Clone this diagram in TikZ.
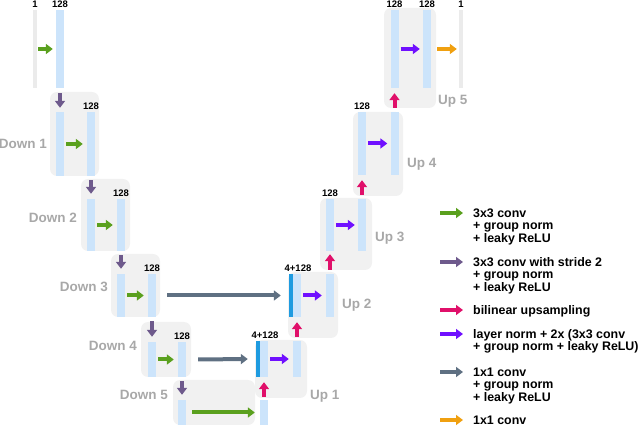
\documentclass[tikz,border=0pt]{standalone}
\usepackage{fontspec}
\setmainfont{Liberation Sans}
\usetikzlibrary{arrows.meta,fit}
\definecolor{boxgray}{HTML}{F1F1F1}
\definecolor{barblue}{HTML}{CCE4FB}
\definecolor{darkblue}{HTML}{1E9BE0}
\definecolor{iobar}{HTML}{EBEBEB}
\definecolor{cgreen}{HTML}{5AA01E}
\definecolor{cdown}{HTML}{6E5A8C}
\definecolor{cpink}{HTML}{E0106A}
\definecolor{cviolet}{HTML}{7010FF}
\definecolor{cskip}{HTML}{5F7082}
\definecolor{corange}{HTML}{F0A010}
\definecolor{lblgray}{HTML}{A8A8A8}
\begin{document}
\begin{tikzpicture}[x=1pt,y=-1pt,
  blk/.style={inner sep=0pt, draw=none, fill=boxgray, rounded corners=7pt},
  barb/.style={inner sep=0pt, draw=none, fill=barblue},
  bard/.style={inner sep=0pt, draw=none, fill=darkblue},
  bario/.style={inner sep=0pt, draw=none, fill=iobar},
  arr/.style={-{Triangle[width=10pt,length=7pt]}, line width=4pt},
  ch/.style={font=\fontsize{9.5}{10}\selectfont\bfseries, inner sep=0pt, anchor=south, yshift=2pt},
  stage/.style={font=\fontsize{13.5}{14}\selectfont\bfseries, text=lblgray, inner sep=0pt},
  legtext/.style={font=\fontsize{12.4}{12.5}\selectfont\bfseries, align=left, inner sep=0pt, anchor=base west}
]
\useasboundingbox (0,0) rectangle (640,427);
% stage boxes
\node[blk, fit={(50,92) (99,176)}] (D1) {};
\node[blk, fit={(81,179) (130,251)}] (D2) {};
\node[blk, fit={(111,254) (160,317)}] (D3) {};
\node[blk, fit={(141,322) (191,377)}] (D4) {};
\node[blk, fit={(173,380) (255,425)}] (D5) {};
\node[blk, fit={(255,340) (307,398)}] (U1) {};
\node[blk, fit={(288,272) (338,338)}] (U2) {};
\node[blk, fit={(320,198) (372,270)}] (U3) {};
\node[blk, fit={(353,112) (403,196)}] (U4) {};
\node[blk, fit={(384,8) (436,108)}] (U5) {};
% bars
\node[bario, fit={(33,10) (37,88)}] (in) {};
\node[barb, fit={(56,10) (64,88)}] (e0) {};
\node[barb, fit={(56,112) (64,176)}] (d1a) {};
\node[barb, fit={(87,112) (95,176)}] (d1b) {};
\node[barb, fit={(87,199) (95,251)}] (d2a) {};
\node[barb, fit={(117,199) (125,251)}] (d2b) {};
\node[barb, fit={(117,274) (125,317)}] (d3a) {};
\node[barb, fit={(148,274) (156,317)}] (d3b) {};
\node[barb, fit={(148,342) (156,377)}] (d4a) {};
\node[barb, fit={(178,342) (186,377)}] (d4b) {};
\node[barb, fit={(178,400) (186,425)}] (d5a) {};
\node[barb, fit={(260,400) (268,425)}] (u0) {};
\node[bard, fit={(256,341) (260,377)}] (u1s) {};
\node[barb, fit={(260,341) (268,377)}] (u1a) {};
\node[barb, fit={(293,341) (301,377)}] (u1b) {};
\node[bard, fit={(289,274) (293,317)}] (u2s) {};
\node[barb, fit={(293,274) (301,317)}] (u2a) {};
\node[barb, fit={(326,274) (334,317)}] (u2b) {};
\node[barb, fit={(326,199) (334,251)}] (u3a) {};
\node[barb, fit={(358,199) (366,251)}] (u3b) {};
\node[barb, fit={(358,112) (366,175)}] (u4a) {};
\node[barb, fit={(390.5,112) (398.5,175)}] (u4b) {};
\node[barb, fit={(390.5,10) (398.5,88)}] (u5a) {};
\node[barb, fit={(423,10) (431,88)}] (u5b) {};
\node[bario, fit={(459,10) (463,88)}] (out) {};
% channel labels
\node[ch] (cin) at (in.north) {1};
\node[ch] (ce0) at (e0.north) {128};
\node[ch] (cd1) at (d1b.north) {128};
\node[ch] (cd2) at (d2b.north) {128};
\node[ch] (cd3) at (d3b.north) {128};
\node[ch] (cd4) at (d4b.north) {128};
\node[ch, xshift=1pt] (cu1) at (u1a.north) {4+128};
\node[ch, xshift=1pt] (cu2) at (u2a.north) {4+128};
\node[ch] (cu3) at (u3a.north) {128};
\node[ch] (cu4) at (u4a.north) {128};
\node[ch] (cu5a) at (u5a.north) {128};
\node[ch] (cu5b) at (u5b.north) {128};
\node[ch] (cout) at (out.north) {1};
% stage labels
\node[stage, anchor=base east] (lD1) at (47,149) {Down 1};
\node[stage, anchor=base east] (lD2) at (77,223) {Down 2};
\node[stage, anchor=base east] (lD3) at (108,292) {Down 3};
\node[stage, anchor=base east] (lD4) at (137,351) {Down 4};
\node[stage, anchor=base east] (lD5) at (168,400) {Down 5};
\node[stage, anchor=base west] (lU1) at (310,400) {Up 1};
\node[stage, anchor=base west] (lU2) at (342,309) {Up 2};
\node[stage, anchor=base west] (lU3) at (375,242) {Up 3};
\node[stage, anchor=base west] (lU4) at (407,168) {Up 4};
\node[stage, anchor=base west] (lU5) at (438,105) {Up 5};
% green conv arrows
\draw[arr, cgreen] ([xshift=1pt]in.east) -- ([xshift=-3pt]e0.west);
\draw[arr, cgreen] ([xshift=2pt]d1a.east) -- ([xshift=-4pt]d1b.west);
\draw[arr, cgreen] ([xshift=2pt]d2a.east) -- ([xshift=-4pt]d2b.west);
\draw[arr, cgreen] ([xshift=2pt]d3a.east) -- ([xshift=-4pt]d3b.west);
\draw[arr, cgreen] ([xshift=2pt]d4a.east) -- ([xshift=-4pt]d4b.west);
\draw[arr, cgreen] ([xshift=6pt]d5a.east) -- ([xshift=-5pt]u0.west);
% downsampling arrows
\draw[arr, cdown] ([yshift=-5pt]e0.south) -- ([yshift=4pt]d1a.north);
\draw[arr, cdown] ([yshift=-4pt]d1b.south) -- ([yshift=5pt]d2a.north);
\draw[arr, cdown] ([yshift=-4pt]d2b.south) -- ([yshift=5pt]d3a.north);
\draw[arr, cdown] ([yshift=-4pt]d3b.south) -- ([yshift=5pt]d4a.north);
\draw[arr, cdown] ([yshift=-4pt]d4b.south) -- ([yshift=5pt]d5a.north);
% upsampling arrows
\draw[arr, cpink] ([yshift=3pt]u0.north) -- ([yshift=-5pt]u1a.south);
\draw[arr, cpink] ([yshift=4pt]u1b.north) -- ([yshift=-5pt]u2a.south);
\draw[arr, cpink] ([yshift=4pt]u2b.north) -- ([yshift=-3pt]u3a.south);
\draw[arr, cpink] ([yshift=4pt]u3b.north) -- ([yshift=-5pt]u4a.south);
\draw[arr, cpink] ([yshift=4pt]u4b.north) -- ([yshift=-5pt]u5a.south);
% up block arrows
\draw[arr, cviolet] ([xshift=2pt]u1a.east) -- ([xshift=-4pt]u1b.west);
\draw[arr, cviolet] ([xshift=2pt]u2a.east) -- ([xshift=-4pt]u2b.west);
\draw[arr, cviolet] ([xshift=2pt]u3a.east) -- ([xshift=-3pt]u3b.west);
\draw[arr, cviolet] ([xshift=2pt]u4a.east) -- ([xshift=-3pt]u4b.west);
\draw[arr, cviolet] ([xshift=2pt]u5a.east) -- ([xshift=-3pt]u5b.west);
% skip connections
\draw[arr, cskip] ([xshift=11pt]d3b.east) -- ([xshift=-8pt]u2s.west);
\draw[arr, cskip] ([xshift=12pt]d4b.east) -- ([xshift=-8pt]u1s.west);
% output
\draw[arr, corange] ([xshift=6pt]u5b.east) -- ([xshift=-2pt]out.west);
% legend
\coordinate (g1a) at (440,213); \coordinate (g1b) at (463,213);
\coordinate (g2a) at (440,262); \coordinate (g2b) at (463,262);
\coordinate (g3a) at (440,310); \coordinate (g3b) at (463,310);
\coordinate (g4a) at (440,334); \coordinate (g4b) at (463,334);
\coordinate (g5a) at (440,372); \coordinate (g5b) at (463,372);
\coordinate (g6a) at (440,420); \coordinate (g6b) at (463,420);
\draw[arr, cgreen] (g1a) -- (g1b);
\draw[arr, cdown] (g2a) -- (g2b);
\draw[arr, cpink] (g3a) -- (g3b);
\draw[arr, cviolet] (g4a) -- (g4b);
\draw[arr, cskip] (g5a) -- (g5b);
\draw[arr, corange] (g6a) -- (g6b);
% base anchor of a multi-line node is the baseline of its last line
\node[legtext] (t1) at (473,242.4) {3x3 conv\\+ group norm\\+ leaky ReLU};
\node[legtext] (t2) at (473,291.4) {3x3 conv with stride 2\\+ group norm\\+ leaky ReLU};
\node[legtext] (t3) at (473,314.4) {bilinear upsampling};
\node[legtext] (t4) at (473,350.9) {layer norm + 2x (3x3 conv\\+ group norm + leaky ReLU)};
\node[legtext] (t5) at (473,401.4) {1x1 conv\\+ group norm\\+ leaky ReLU};
\node[legtext] (t6) at (473,424.4) {1x1 conv};
\end{tikzpicture}
\end{document}
